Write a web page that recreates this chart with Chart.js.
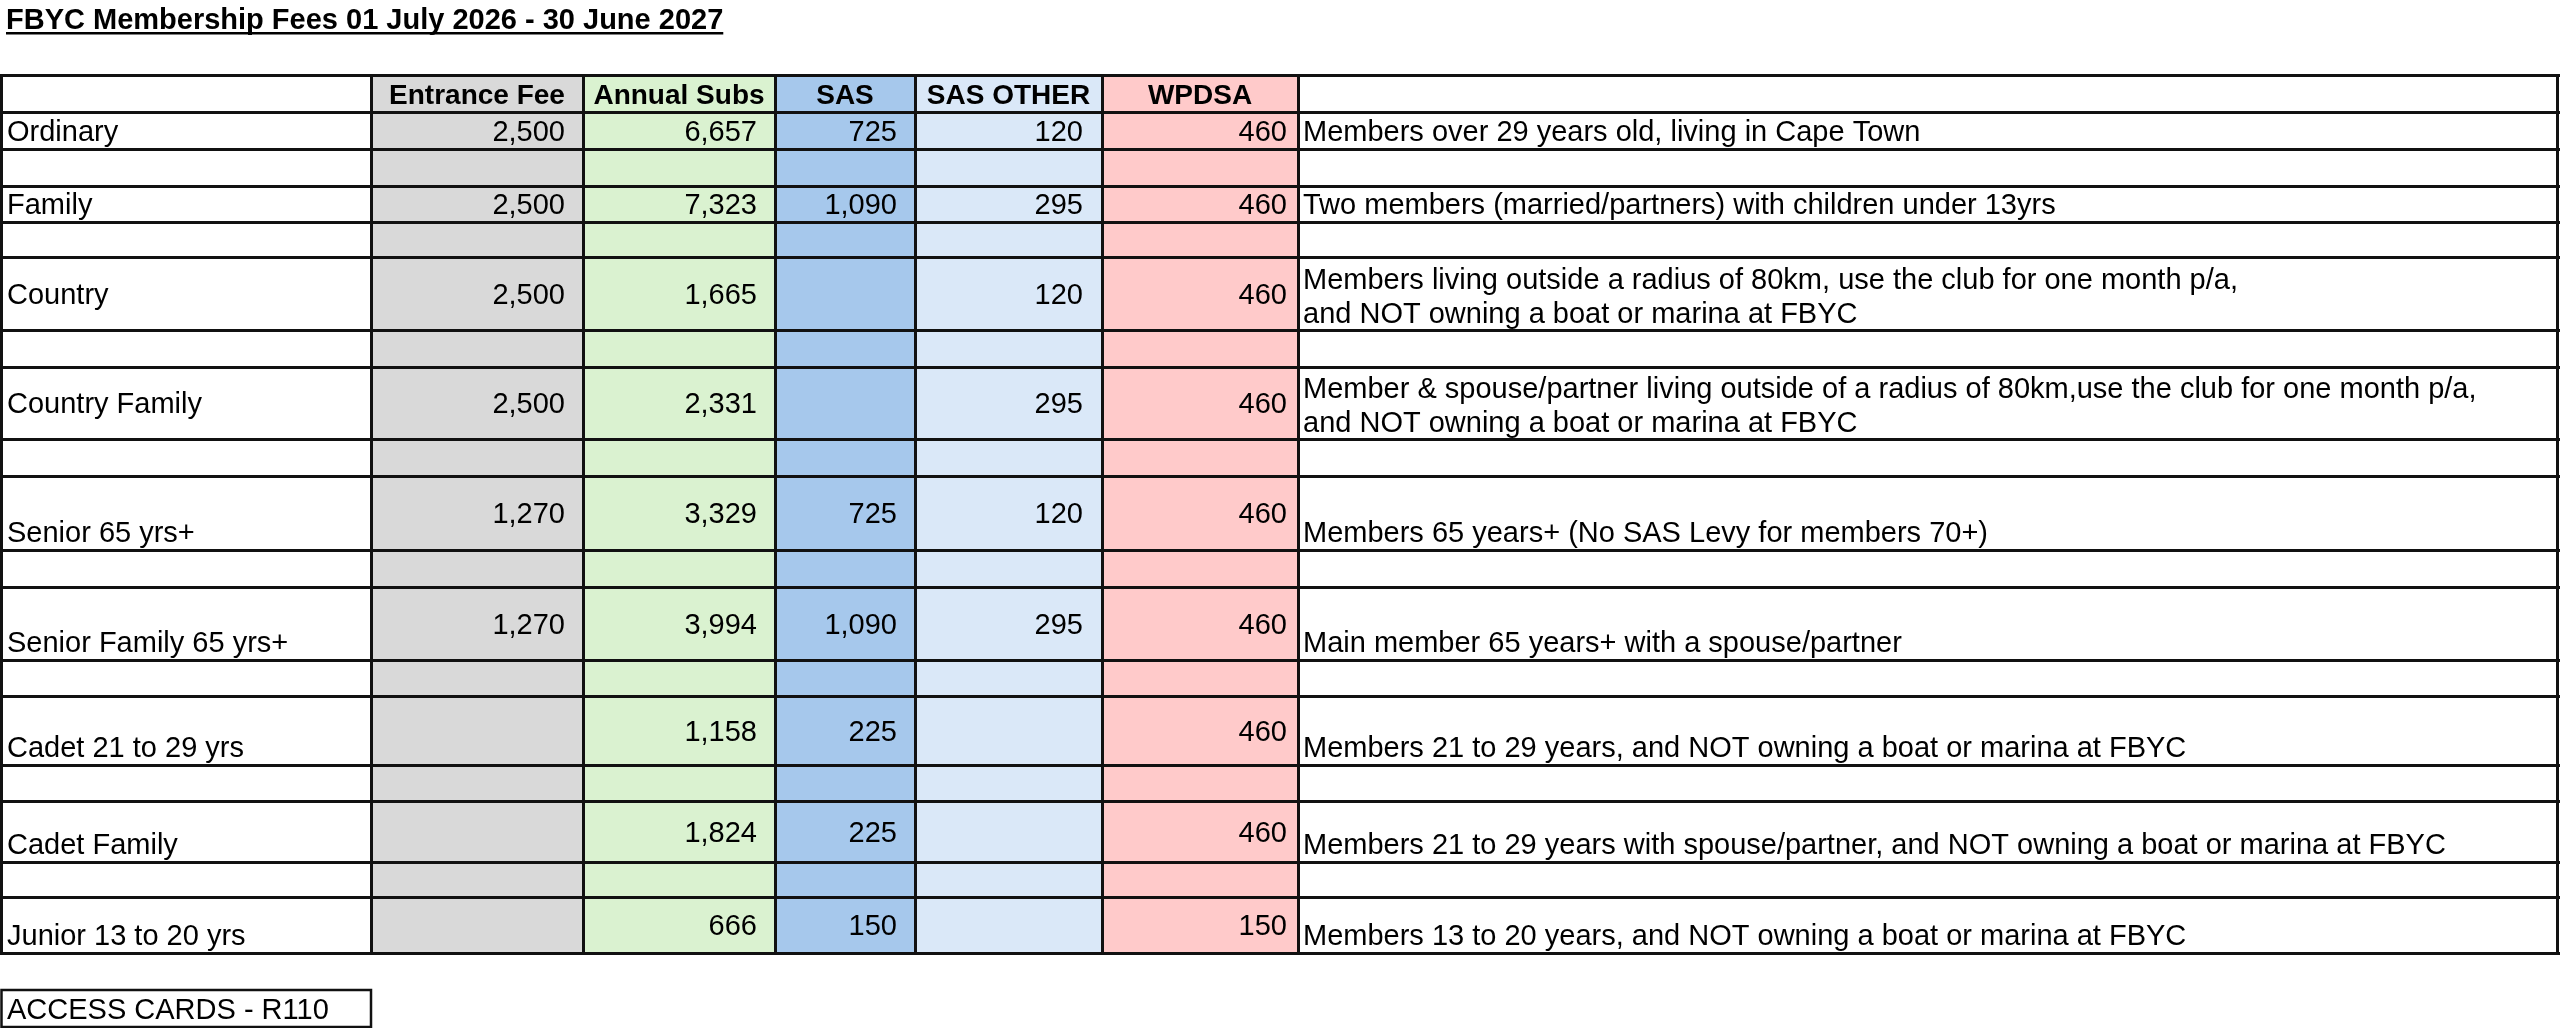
<!DOCTYPE html>
<html>
<head>
<meta charset="utf-8">
<script src="https://cdn.jsdelivr.net/npm/chart.js@4.4.1/dist/chart.umd.min.js"></script>
<style>
  html, body { margin: 0; padding: 0; background: #fff; overflow: hidden; }
  #caixa { position: relative; width: 2560px; height: 1028px; }
</style>
</head>
<body>
<div id="caixa"><canvas id="tabelaTaxas"></canvas></div>
<script>
// Dados da tabela
const titulo = "FBYC Membership Fees 01 July 2026 - 30 June 2027";
const colunas = ["Entrance Fee", "Annual Subs", "SAS", "SAS OTHER", "WPDSA"];
const categorias = ["Ordinary", "Family", "Country", "Country Family", "Senior 65 yrs+",
    "Senior Family 65 yrs+", "Cadet 21 to 29 yrs", "Cadet Family", "Junior 13 to 20 yrs"];
const entranceFee = [2500, 2500, 2500, 2500, 1270, 1270, null, null, null];
const annualSubs = [6657, 7323, 1665, 2331, 3329, 3994, 1158, 1824, 666];
const sas = [725, 1090, null, null, 725, 1090, 225, 225, 150];
const sasOther = [120, 295, 120, 295, 120, 295, null, null, null];
const wpdsa = [460, 460, 460, 460, 460, 460, 460, 460, 150];
const descricoes = [
    ["Members over 29 years old, living in Cape Town"],
    ["Two members (married/partners) with children under 13yrs"],
    ["Members living outside a radius of 80km, use the club for one month p/a,", "and NOT owning a boat or marina at FBYC"],
    ["Member & spouse/partner living outside of a radius of 80km,use the club for one month p/a,", "and NOT owning a boat or marina at FBYC"],
    ["Members 65 years+ (No SAS Levy for members 70+)"],
    ["Main member 65 years+ with a spouse/partner"],
    ["Members 21 to 29 years, and NOT owning a boat or marina at FBYC"],
    ["Members 21 to 29 years with spouse/partner, and NOT owning a boat or marina at FBYC"],
    ["Members 13 to 20 years, and NOT owning a boat or marina at FBYC"]
];
const notaRodape = "ACCESS CARDS - R110";

// Layout (em pixels da imagem)
const bordasX = [1.5, 371, 583, 775, 915, 1102, 1298, 2557.5];
const topoTabela = 75;
const alturaCabecalho = 37;
const alturasCategorias = [37, 36, 73, 72, 74, 73, 69, 61, 56];
const alturasEspacos = [37, 35, 37, 37, 37, 36, 36, 35];
const alinhamento = ["bottom", "bottom", "middle", "middle", "bottom", "bottom", "bottom", "bottom", "bottom"];
const coresColunas = ["#d9d9d9", "#daf2d0", "#a6c8ec", "#dae8f8", "#ffcaca"];
const recuoNumeros = [18, 18, 18, 19, 11];
const fonte = '"Liberation Sans", Arial, sans-serif';
const tamanhoFonte = 29;

const valores = [entranceFee, annualSubs, sas, sasOther, wpdsa];

// Limites das linhas
let limitesY = [topoTabela, topoTabela + alturaCabecalho];
let linhasCategoria = [];
alturasCategorias.forEach((h, i) => {
    let topo = limitesY[limitesY.length - 1];
    linhasCategoria.push([topo, topo + h]);
    limitesY.push(topo + h);
    if (i < alturasEspacos.length) limitesY.push(topo + h + alturasEspacos[i]);
});
const fundoTabela = limitesY[limitesY.length - 1];

function linhaBase(topo, fundo, modo) {
    if (modo === "middle") return (topo + fundo) / 2 + 10;
    return fundo - 8;
}

// Textos da tabela
const pluginTexto = {
    id: "textoTabela",
    afterDraw(chart) {
        const { ctx, scales: { x, y } } = chart;
        ctx.save();
        ctx.fillStyle = "#000";
        ctx.textBaseline = "alphabetic";

        // título sublinhado
        ctx.font = "bold " + tamanhoFonte + "px " + fonte;
        ctx.textAlign = "left";
        const tx = x.getPixelForValue(6);
        ctx.fillText(titulo, tx, y.getPixelForValue(29));
        ctx.fillRect(tx, y.getPixelForValue(32), ctx.measureText(titulo).width, 2.5);

        // cabeçalho
        ctx.font = "bold 28px " + fonte;
        ctx.textAlign = "center";
        colunas.forEach((nome, c) => {
            const cx = (x.getPixelForValue(bordasX[c + 1]) + x.getPixelForValue(bordasX[c + 2])) / 2;
            ctx.fillText(nome, cx, linhaBase(y.getPixelForValue(topoTabela), y.getPixelForValue(topoTabela + alturaCabecalho), "middle"));
        });

        ctx.font = tamanhoFonte + "px " + fonte;
        categorias.forEach((cat, r) => {
            const topo = y.getPixelForValue(linhasCategoria[r][0]);
            const fundo = y.getPixelForValue(linhasCategoria[r][1]);
            const base = linhaBase(topo, fundo, alinhamento[r]);

            ctx.textAlign = "left";
            ctx.fillText(cat, x.getPixelForValue(bordasX[0] + 5.5), base);

            ctx.textAlign = "right";
            valores.forEach((serie, c) => {
                if (serie[r] === null) return;
                ctx.fillText(serie[r].toLocaleString("en-US"),
                    x.getPixelForValue(bordasX[c + 2]) - recuoNumeros[c],
                    linhaBase(topo, fundo, "middle"));
            });

            ctx.textAlign = "left";
            const linhas = descricoes[r];
            const dx = x.getPixelForValue(bordasX[6]) + 5;
            if (linhas.length > 1) {
                const meio = (topo + fundo) / 2;
                ctx.fillText(linhas[0], dx, meio - 17 + 12);
                ctx.fillText(linhas[1], dx, meio + 17 + 12);
            } else {
                ctx.fillText(linhas[0], dx, base);
            }
        });

        // caixa do rodapé
        const bx0 = x.getPixelForValue(bordasX[0]);
        const bx1 = x.getPixelForValue(bordasX[1]);
        const by0 = y.getPixelForValue(990);
        const by1 = y.getPixelForValue(1027);
        ctx.strokeStyle = "#111";
        ctx.lineWidth = 2.5;
        ctx.strokeRect(bx0, by0, bx1 - bx0, by1 - by0);
        ctx.textAlign = "left";
        ctx.fillText(notaRodape, bx0 + 5.5, (by0 + by1) / 2 + 10);
        ctx.restore();
    }
};

// Colunas coloridas como barras flutuantes (uma pilha só, sem dividir a faixa)
const meioTabela = (topoTabela + fundoTabela) / 2;
const datasets = colunas.map((nome, c) => ({
    label: nome,
    data: [{ x: [bordasX[c + 1], bordasX[c + 2]], y: meioTabela }],
    backgroundColor: coresColunas[c],
    borderWidth: 0,
    stack: "colunas",
    barThickness: "flex",
    categoryPercentage: 1,
    barPercentage: 1
}));

const grade = { color: "#111", lineWidth: 3, drawTicks: false, offset: false, z: 1 };

new Chart(document.getElementById("tabelaTaxas"), {
    type: "bar",
    data: { datasets: datasets },
    options: {
        indexAxis: "y",
        responsive: true,
        maintainAspectRatio: false,
        animation: false,
        events: [],
        layout: { padding: { top: topoTabela, bottom: 1028 - fundoTabela, left: 0, right: 0 } },
        plugins: { legend: { display: false }, tooltip: { enabled: false } },
        scales: {
            x: {
                type: "linear", min: 0, max: 2560, offset: false, stacked: false,
                ticks: { display: false }, border: { display: false }, grid: grade,
                afterBuildTicks: (escala) => { escala.ticks = bordasX.map(v => ({ value: v })); }
            },
            y: {
                type: "linear", min: topoTabela, max: fundoTabela, reverse: true, offset: false,
                ticks: { display: false }, border: { display: false }, grid: grade,
                afterBuildTicks: (escala) => { escala.ticks = limitesY.map(v => ({ value: v })); }
            }
        }
    },
    plugins: [pluginTexto]
});
</script>
</body>
</html>
